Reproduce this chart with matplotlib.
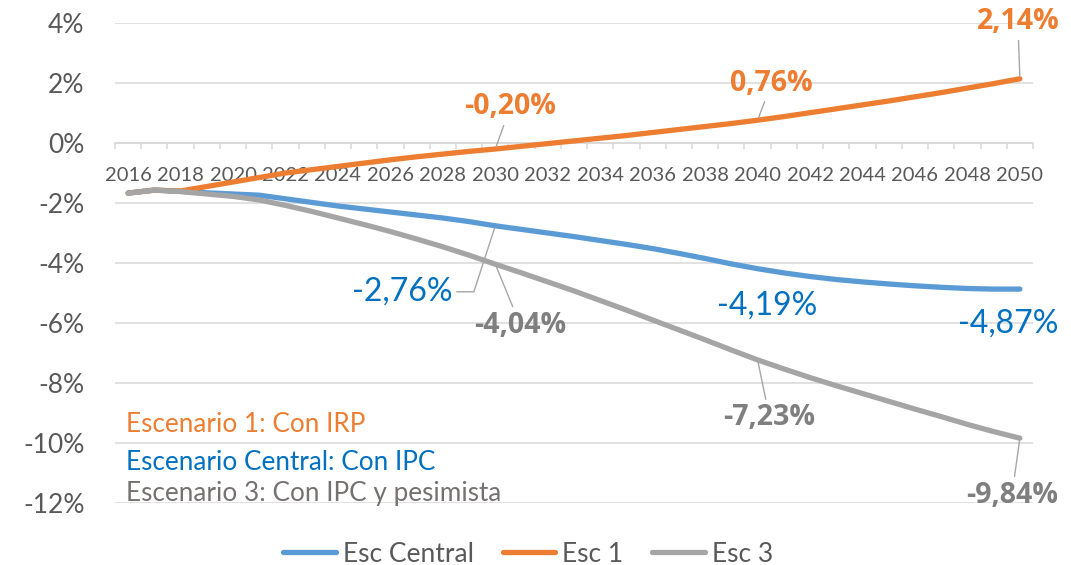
import matplotlib.pyplot as plt
import numpy as np
from matplotlib.ticker import FixedLocator, FuncFormatter

plt.rcParams['font.family'] = ['Lato', 'DejaVu Sans']

# ---- data ----
years = list(range(2016, 2051))

esc_central = [-1.67, -1.57, -1.61, -1.66, -1.70, -1.74, -1.86, -1.98, -2.10, -2.20,
               -2.30, -2.40, -2.50, -2.62, -2.76, -2.88, -3.00, -3.12, -3.25, -3.38,
               -3.52, -3.68, -3.85, -4.03, -4.19, -4.33, -4.45, -4.55, -4.63, -4.70,
               -4.76, -4.81, -4.85, -4.87, -4.87]
esc_1 = [-1.67, -1.57, -1.60, -1.45, -1.30, -1.15, -1.00, -0.89, -0.78, -0.67,
         -0.56, -0.46, -0.37, -0.28, -0.20, -0.11, -0.02, 0.07, 0.16, 0.25,
         0.35, 0.45, 0.55, 0.65, 0.76, 0.88, 1.01, 1.14, 1.27, 1.40,
         1.54, 1.68, 1.83, 1.98, 2.14]
esc_3 = [-1.67, -1.57, -1.62, -1.70, -1.78, -1.90, -2.08, -2.28, -2.50, -2.72,
         -2.95, -3.20, -3.46, -3.74, -4.04, -4.33, -4.63, -4.93, -5.25, -5.57,
         -5.90, -6.23, -6.56, -6.90, -7.23, -7.53, -7.82, -8.09, -8.35, -8.61,
         -8.87, -9.12, -9.38, -9.62, -9.84]

series_names = ['Esc Central', 'Esc 1', 'Esc 3']
series_colors = ['#5B9BD5', '#ED7D31', '#A5A5A5']

# labels: (series, year, text, colour, bold, offset px, connector)
labels = [
    (esc_1, 2030, '-0,20%', '#ED7D31', True, (15, 42), 'arc3'),
    (esc_1, 2040, '0,76%', '#ED7D31', True, (14, 37), 'arc3'),
    (esc_1, 2050, '2,14%', '#ED7D31', True, (-2, 57), 'arc3'),
    (esc_central, 2030, '-2,76%', '#0070C0', False, (-93, -66), 'angle,angleA=0,angleB=72,rad=0'),
    (esc_central, 2040, '-4,19%', '#0070C0', False, (10, -37), None),
    (esc_central, 2050, '-4,87%', '#0070C0', False, (-12, -34), None),
    (esc_3, 2030, '-4,04%', '#7F7F7F', True, (25, -61), 'arc3'),
    (esc_3, 2040, '-7,23%', '#7F7F7F', True, (12, -58), 'arc3'),
    (esc_3, 2050, '-9,84%', '#7F7F7F', True, (-8, -57), 'arc3'),
]

notes = ['Escenario 1: Con IRP', 'Escenario Central: Con IPC', 'Escenario 3: Con IPC y pesimista']
note_colors = ['#ED7D31', '#0070C0', '#767171']

# ---- figure ----
W, H = 1071, 565
fig = plt.figure(figsize=(W / 100, H / 100), dpi=100)
ax = fig.add_axes([115 / W, 1 - 503 / H, (1033 - 115) / W, (503 - 23) / H])

x = np.arange(len(years))
for vals, name, col in zip([esc_central, esc_1, esc_3], series_names, series_colors):
    ax.plot(x, vals, color=col, lw=3.8, label=name, solid_capstyle='round', zorder=3)

ax.set_xlim(-0.5, len(years) - 0.5)
ax.set_ylim(-12, 4)

# y axis
ax.set_yticks(np.arange(-12, 5, 2))
ax.yaxis.set_major_formatter(FuncFormatter(lambda v, p: f'{v:.0f}%'))
ax.tick_params(axis='y', length=0, pad=22, labelsize=19, labelcolor='#595959')
ax.grid(axis='y', color='#D9D9D9', lw=1.1)
ax.set_axisbelow(True)

# x axis through zero
for s in ['left', 'right', 'top']:
    ax.spines[s].set_visible(False)
ax.spines['bottom'].set_position(('data', 0))
ax.spines['bottom'].set_color('#D9D9D9')
ax.spines['bottom'].set_linewidth(1.1)
ax.xaxis.set_major_locator(FixedLocator(x[::2]))
ax.set_xticklabels([str(y) for y in years[::2]])
ax.xaxis.set_minor_locator(FixedLocator(np.arange(-0.5, len(years), 1)))
ax.tick_params(axis='x', which='major', length=0, pad=17, labelsize=14.5, labelcolor='#595959')
ax.tick_params(axis='x', which='minor', length=4.5, width=1.1, color='#D9D9D9', direction='out')

# data labels
for vals, yr, txt, col, bold, off, conn in labels:
    i = years.index(yr)
    kw = {}
    if conn:
        kw['arrowprops'] = dict(arrowstyle='-', color='#A6A6A6', lw=1,
                                connectionstyle=conn, shrinkA=1, shrinkB=2)
    if bold:
        fkw = dict(family=['Open Sans', 'DejaVu Sans'], fontweight='bold', fontsize=20.5)
    else:
        fkw = dict(fontsize=23)
    ax.annotate(txt, xy=(i, vals[i]), xytext=off, textcoords='offset pixels',
                ha='center', va='center', color=col, zorder=4, **fkw, **kw)

# scenario notes
for k, (t, c) in enumerate(zip(notes, note_colors)):
    fig.text(126 / W, 1 - [424, 462, 494][k] / H, t, color=c, fontsize=18.8,
             ha='left', va='center')

fig.legend(loc='lower center', bbox_to_anchor=(0.493, -0.045), ncol=3, frameon=False,
           fontsize=19, labelcolor='#595959', handlelength=2.0, handletextpad=0.25,
           columnspacing=1.1)

fig.savefig('out.png', dpi=100)
